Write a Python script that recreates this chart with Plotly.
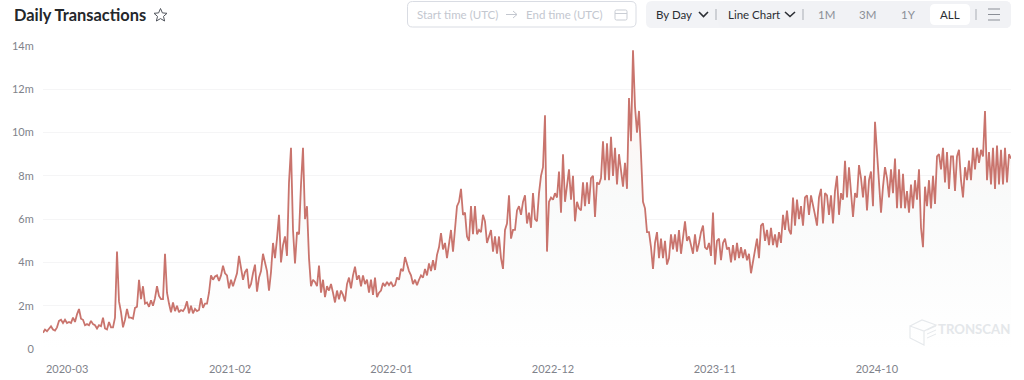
import pandas as pd
import plotly.graph_objects as go

W, H = 1024, 380
ML, MR, MT, MB = 43, 13, 46, 31

# Daily transactions in millions, sampled across the whole period
tx_2020 = [0.75,0.9,0.82,0.95,1.05,0.9,0.85,1.0,1.3,1.35,1.2,1.35,1.2,1.25,1.2,1.45,1.25,1.6,1.85,1.4,
 1.35,1.1,1.15,1.1,1.3,1.15,1.1,0.95,1.1,1.05,1.45,0.95,0.9,1.25,1.0,1.0,1.45,4.5,2.2,1.7,
 1.0,1.35,1.85,1.45,1.45,1.4,1.9,1.95,3.2,2.3,2.9,2.1,2.15,1.95,2.25,2.0,2.35,2.9,2.45,2.3,
 2.3,4.4,2.6,2.1,1.7,2.15,1.75,2.0,1.7,1.8,1.75,1.9,2.2,1.65,2.0,1.65,1.85,1.75,1.8,2.35]
tx_2021 = [1.9,2.1,2.1,2.6,3.4,3.2,3.35,3.4,3.15,3.4,3.85,3.5,3.4,2.8,3.2,2.9,3.2,3.5,4.3,3.8,
 3.2,3.55,3.7,2.8,3.0,3.5,3.9,2.65,3.3,3.6,4.4,4.0,3.6,2.7,3.55,4.9,4.2,5.1,6.2,4.0,
 4.8,5.2,4.3,7.7,9.3,5.5,3.95,5.4,5.3,7.6,9.3,6.0,6.6,4.2,2.9,3.2,3.1,2.9,3.85,2.6,
 3.2,2.4,2.9,2.7,3.0,2.6,2.15,2.7,2.3,2.7,2.5,2.2,3.0,3.3,2.8,3.4,3.8,3.2,3.4,2.9,
 3.4,3.0,3.2,2.6,3.2,2.5,3.3,2.4,2.6,2.7,3.05,2.9,3.1,2.95]
tx_2022 = [3.1,2.9,2.95,3.3,3.2,3.7,3.6,4.25,3.9,3.6,3.4,3.0,3.2,2.95,3.2,3.4,3.3,3.7,3.4,3.95,
 3.6,4.1,3.65,4.35,4.7,5.35,4.6,4.9,4.2,4.9,5.5,4.5,5.6,6.6,6.8,7.4,6.2,6.3,5.2,5.0,
 6.6,5.3,6.6,5.3,5.5,5.4,6.2,5.9,4.9,5.2,5.5,4.5,5.2,4.4,5.2,4.2,3.7,5.5,5.8,7.1,
 5.1,5.5,5.5,6.4,6.6,6.2,6.8,7.1,5.8,6.3,5.6,7.2,6.0,5.9,7.2,8.0,8.4,10.8,4.5,6.8]
tx_2023 = [7.0,6.9,7.2,7.0,8.2,6.3,9.0,6.8,7.5,8.3,6.9,8.0,5.9,6.8,6.5,6.4,7.7,6.6,7.7,6.7,
 7.9,8.0,6.1,7.7,7.6,7.9,9.6,7.8,9.5,7.8,9.8,8.0,9.3,7.6,9.0,8.3,7.5,8.6,7.4,11.6,
 9.6,13.8,11.2,10.0,11.0,9.0,6.8,6.5,5.4,5.4,4.7,3.7,4.9,5.4,4.2,5.1,4.2,5.0,3.9,4.2,
 5.3,4.6,5.3,4.5,5.5,4.4,5.2,5.9,5.0,5.2,4.8,4.4,5.3,4.5,4.9,5.4,5.7,4.7,4.6,4.9,
 4.3,6.3,3.9,5.0,5.1,4.1,4.9,5.1,4.6,4.7,4.0,4.8,4.1,4.9,4.2,4.7,4.2,4.6,4.1,4.4,
 3.5,4.1,4.7,5.1,4.2,5.7,5.8,5.0,5.5,4.8,5.6,4.8,5.3,4.7,5.4,4.9]
tx_2024 = [6.2,5.5,6.4,5.5,5.3,7.0,5.7,6.9,6.0,6.6,5.7,7.0,7.1,6.2,7.1,6.7,6.2,5.7,7.0,7.4,
 5.8,7.2,7.1,6.2,7.1,5.8,7.3,8.0,6.2,7.2,6.9,8.7,7.0,8.4,7.4,6.1,7.2,7.0,8.5,7.9,
 7.0,8.0,6.4,7.8,8.2,6.6,10.5,9.2,7.7,6.3,7.5,8.4,7.9,7.0,8.3,7.2,8.8,6.5,8.3,6.5,
 8.1,6.5,7.3,6.3,7.6,6.5,7.8,6.9,8.3,5.6,4.7,7.5,6.6,7.8,6.5,8.0,6.7,8.9,9.0,8.3,
 9.3,7.7,9.1,7.4,8.9,8.9,7.3,8.9,9.2,7.8,7.0,8.4,7.8,8.7,7.8,9.3,8.3,9.3,8.6,9.2,
 8.9,11.0,7.8,9.1,7.6,9.3,7.4,9.4,7.6,9.2,7.6,9.3,7.7,9.0,8.8]
tx_millions = tx_2020 + tx_2021 + tx_2022 + tx_2023 + tx_2024
start_date = "2020-01-11"
dates = pd.date_range(start_date, periods=len(tx_millions), freq="5958min")

x_ticks = ["2020-03-01","2021-02-01","2022-01-01","2022-12-01","2023-11-01","2024-10-01"]
x_labels = ["2020-03","2021-02","2022-01","2022-12","2023-11","2024-10"]
y_ticks = [0,2,4,6,8,10,12,14]
y_labels = ["0","2m","4m","6m","8m","10m","12m","14m"]

PW, PH = W-ML-MR, H-MT-MB
def px(x): return (x-ML)/PW
def py(y): return 1-(y-MT)/PH

shapes, annos = [], []
def rrect(x0,y0,x1,y1,r,fill="rgba(0,0,0,0)",line="rgba(0,0,0,0)",lw=1,layer="below"):
    rx, ry = r/PW, r/PH
    a,b,c,d = px(x0),py(y0),px(x1),py(y1)
    p=(f"M{a+rx},{b} L{c-rx},{b} Q{c},{b} {c},{b-ry} L{c},{d+ry} Q{c},{d} {c-rx},{d} "
       f"L{a+rx},{d} Q{a},{d} {a},{d+ry} L{a},{b-ry} Q{a},{b} {a+rx},{b} Z")
    shapes.append(dict(type="path",path=p,xref="paper",yref="paper",fillcolor=fill,line=dict(color=line,width=lw),layer=layer))
def poly(pts,color,lw=1,layer="below"):
    p="M"+" L".join(f"{px(a)},{py(b)}" for a,b in pts)
    shapes.append(dict(type="path",path=p,xref="paper",yref="paper",line=dict(color=color,width=lw),layer=layer))
def text(x,y,t,size,color,anchor="left",bold=False):
    annos.append(dict(x=px(x),y=py(y),xref="paper",yref="paper",text=f"<b>{t}</b>" if bold else t,showarrow=False,
        xanchor=anchor,yanchor="middle",font=dict(family="Lato",size=size,color=color),borderpad=0,borderwidth=0))

text(14,15,"Daily Transactions",16.4,"#24272b",bold=True)
poly([(160.5,8.5),(162.4,12.9),(167,13.3),(163.5,16.4),(164.6,21),(160.5,18.6),(156.4,21),(157.5,16.4),(154,13.3),(158.6,12.9),(160.5,8.5)],"#50545c",1)
rrect(407.5,1.5,636,27,5,fill="#ffffff",line="#d9dce3")
text(417,14.5,"Start time (UTC)",11.5,"#c3c7cf")
text(526,14.5,"End time (UTC)",11.5,"#c3c7cf")
poly([(506,14.5),(517,14.5)],"#c3c7cf"); poly([(513,11),(517,14.5),(513,18)],"#c3c7cf")
rrect(615,10,627,20,1.5,line="#c9cdd4"); poly([(615,13.5),(627,13.5)],"#c9cdd4")
rrect(646,1,1011,28,6,fill="#f2f3f6")
rrect(718,1,1011,28,6,fill="#f1f2f5")
rrect(930,4,970,25,5,fill="#ffffff")
text(656,14.5,"By Day",11.5,"#2b2e33")
poly([(699,12),(703.5,16.5),(708,12)],"#2b2e33",1.6)
poly([(716,9),(716,20)],"#a9adb4")
text(728,14.5,"Line Chart",11.5,"#2b2e33")
poly([(785,12),(790,16.5),(795,12)],"#2b2e33",1.6)
poly([(803,9),(803,20)],"#a9adb4")
text(826,14.5,"1M",11.5,"#8b8f97","center")
text(867,14.5,"3M",11.5,"#8b8f97","center")
text(908,14.5,"1Y",11.5,"#8b8f97","center")
text(949.5,14.5,"ALL",11.5,"#2b2e33","center")
poly([(976,9),(976,20)],"#a9adb4")
for yy in (9,14.5,20):
    poly([(988,yy),(1000,yy)],"#8b8f97",1)

# watermark
text(938,329,"TRONSCAN",13.2,"#e4e7ea",bold=True)
poly([(910,326),(922,320),(936,325),(924,331),(910,326),(910,338),(924,345),(924,331)],"#e6e9ec",1.2,"above")
for yy in (329,333,337):
    poly([(927,yy+1),(936,yy-3)],"#e6e9ec",1,"above")

fig = go.Figure(go.Scatter(
    x=dates, y=tx_millions, mode="lines", hoverinfo="skip",
    line=dict(color="#c9746d", width=1.8),
    fill="tozeroy",
    fillgradient=dict(type="vertical", colorscale=[[0,"#ffffff"],[0.5,"#f9fafa"],[0.8,"#fdf6f4"],[1,"#fff0ec"]]),
))
fig.update_layout(
    width=W, height=H, autosize=False, showlegend=False,
    margin=dict(l=ML,r=MR,t=MT,b=MB,pad=0,autoexpand=False),
    paper_bgcolor="#ffffff", plot_bgcolor="#ffffff",
    shapes=shapes, annotations=annos,
    font=dict(family="Lato",size=11,color="#7f838b"),
    xaxis=dict(range=[dates[0],dates[-1]],tickvals=x_ticks,ticktext=x_labels,showgrid=False,zeroline=False,automargin=False,
               showline=False,ticks="outside",ticklen=10,tickcolor="rgba(0,0,0,0)",tickangle=0),
    yaxis=dict(range=[0,14],tickvals=y_ticks,ticktext=y_labels,showgrid=True,gridcolor="#f5f5f6",gridwidth=1,automargin=False,
               zeroline=False,showline=False,ticks="outside",ticklen=6,tickcolor="rgba(0,0,0,0)"),
)
fig.write_html("out.html", config=dict(displayModeBar=False), post_script="document.body.style.margin='0';document.body.style.overflow='hidden';")
